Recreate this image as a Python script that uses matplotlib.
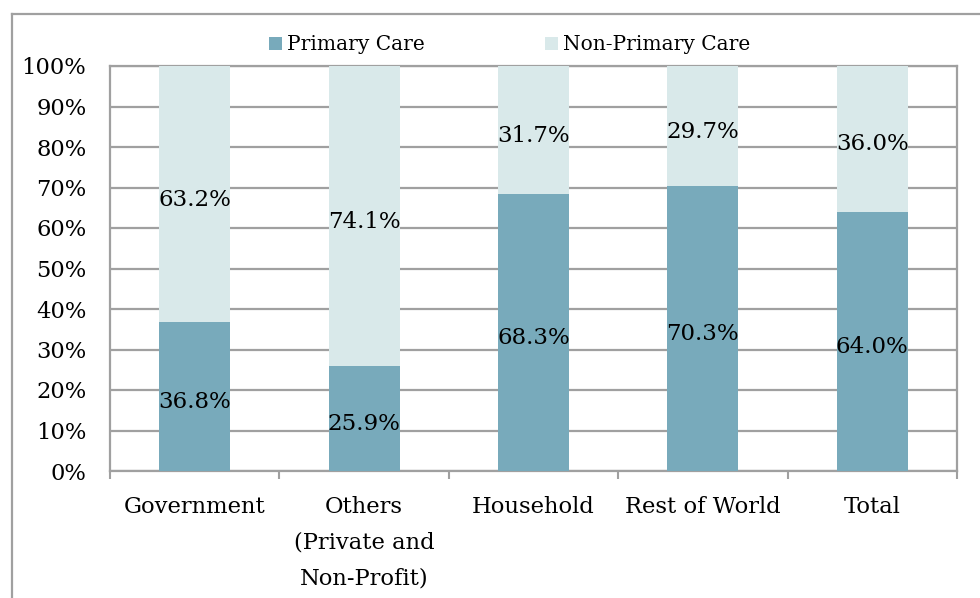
import matplotlib
matplotlib.use("Agg")
import matplotlib.pyplot as plt
import numpy as np
from matplotlib.lines import Line2D

plt.rcParams["font.family"] = ["DejaVu Serif"]

categories = ["Government", "Others\n(Private and\nNon-Profit)", "Household",
              "Rest of World", "Total"]
primary = [36.8, 25.9, 68.3, 70.3, 64.0]
non_primary = [63.2, 74.1, 31.7, 29.7, 36.0]
yticks = [0, 10, 20, 30, 40, 50, 60, 70, 80, 90, 100]

c_primary = "#78aabb"
c_non = "#d9e9ea"
c_grid = "#a0a0a0"
fs = 16.5

fig = plt.figure(figsize=(9.8, 5.98), dpi=100)
ax = fig.add_axes([110 / 980, 1 - 471 / 598, 847 / 980, 405 / 598])

x = np.arange(len(categories))
w = 0.42
b1 = ax.bar(x, primary, w, color=c_primary, label="Primary Care", zorder=3)
b2 = ax.bar(x, non_primary, w, bottom=primary, color=c_non,
            label="Non-Primary Care", zorder=3)

for i in range(len(x)):
    ax.annotate(f"{primary[i]:.1f}%", (x[i], primary[i] / 2),
                xytext=(0, -4), textcoords="offset points", ha="center",
                va="center", fontsize=fs, zorder=4)
    ax.annotate(f"{non_primary[i]:.1f}%", (x[i], primary[i] + non_primary[i] / 2),
                xytext=(0, -4), textcoords="offset points", ha="center",
                va="center", fontsize=fs, zorder=4)

ax.set_xlim(-0.5, len(x) - 0.5)
ax.set_ylim(0, 100)
ax.set_yticks(yticks)
ax.set_yticklabels([f"{v}%" for v in yticks], fontsize=16.3)
ax.set_xticks(x)
ax.set_xticklabels(categories, fontsize=16.3, linespacing=1.82)
ax.set_xticks(np.arange(-0.5, len(x), 1), minor=True)
ax.tick_params(axis="x", which="major", length=0, pad=18)
ax.tick_params(axis="x", which="minor", length=6, width=1.5, color=c_grid)
ax.tick_params(axis="y", length=0, pad=17)

ax.yaxis.grid(True, color=c_grid, linewidth=1.6, zorder=0)
ax.set_axisbelow(True)
for sp in ax.spines.values():
    sp.set_color(c_grid)
    sp.set_linewidth(1.6)

fig.legend(handles=[b1, b2], loc="center", bbox_to_anchor=(0.52, 1 - 45 / 598),
           ncol=2, frameon=False, fontsize=14.5, handlelength=0.65,
           handleheight=0.65, handletextpad=0.25, columnspacing=6.0,
           borderaxespad=0)

# outer chart border (top and left only visible)
fig.add_artist(Line2D([12 / 980, 1.01], [1 - 14 / 598, 1 - 14 / 598],
                      transform=fig.transFigure, color=c_grid, linewidth=1.6))
fig.add_artist(Line2D([12 / 980, 12 / 980], [1 - 14 / 598, -0.01],
                      transform=fig.transFigure, color=c_grid, linewidth=1.6))

fig.savefig("out.png", dpi=100)
